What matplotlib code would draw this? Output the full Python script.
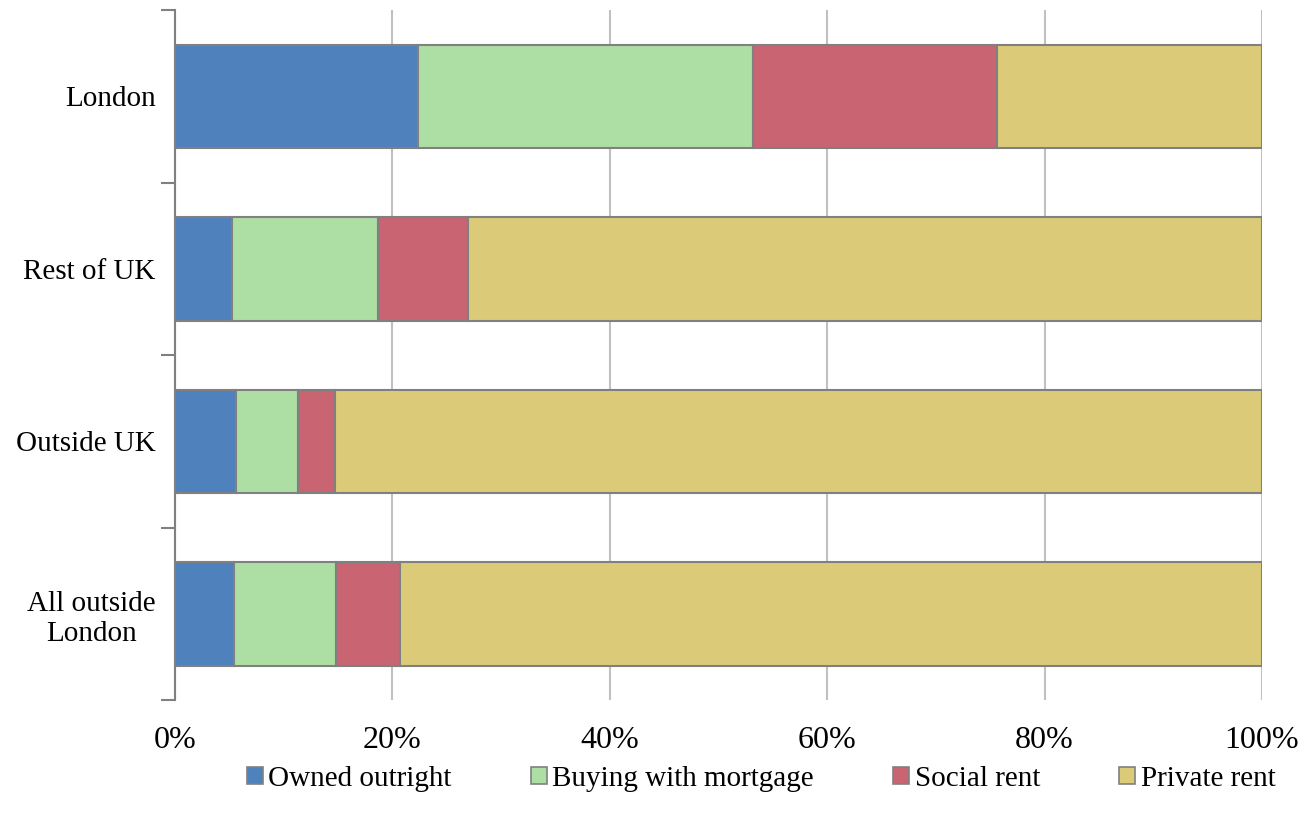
import matplotlib
matplotlib.use("Agg")
import matplotlib.pyplot as plt
import numpy as np

categories = ["London", "Rest of UK", "Outside UK", "All outside\nLondon"]
series_names = ["Owned outright", "Buying with mortgage", "Social rent", "Private rent"]
owned = [22.4, 5.2, 5.6, 5.4]
mortgage = [30.8, 13.5, 5.7, 9.4]
social = [22.4, 8.3, 3.4, 5.9]
private = [24.4, 73.0, 85.3, 79.3]
colors = ["#4f81bd", "#addfa5", "#c96473", "#dbcb78"]

plt.rcParams['font.family'] = ['Liberation Serif', 'DejaVu Serif']

fig = plt.figure(figsize=(13.07, 8.27), dpi=100)
ax = fig.add_axes([175/1307, 1-700/827, (1262-175)/1307, (700-10)/827])

y = np.arange(len(categories))
left = np.zeros(len(categories))
for name, vals, c in zip(series_names, [owned, mortgage, social, private], colors):
    ax.barh(y, vals, left=left, height=0.6, color=c, edgecolor="#808080", linewidth=1.5, label=name, zorder=3)
    left += np.array(vals)

ax.set_ylim(len(categories) - 0.5, -0.5)
ax.set_xlim(0, 100)
ax.set_xticks([0, 20, 40, 60, 80, 100])
ax.set_xticklabels(["0%", "20%", "40%", "60%", "80%", "100%"], fontsize=23)
ax.tick_params(axis='x', length=0, pad=19)
ax.xaxis.grid(True, color="#c0c0c0", linewidth=1.5, zorder=0)
ax.set_yticks(y)
ax.set_yticklabels(categories, fontsize=21)
ax.set_yticks(np.arange(-0.5, len(categories), 1.0), minor=True)
ax.tick_params(axis='y', which='major', length=0, pad=14)
ax.tick_params(axis='y', which='minor', length=10, width=1.5, color="#808080")
for s in ["top", "right", "bottom"]:
    ax.spines[s].set_visible(False)
ax.spines["left"].set_color("#808080")
ax.spines["left"].set_linewidth(1.5)
for lab in ax.get_yticklabels():
    lab.set_multialignment("center")

leg = fig.legend(loc="center", bbox_to_anchor=(761/1307, 1-779/827), ncol=4, frameon=False,
                 fontsize=21, handlelength=0.55, handleheight=0.55, handletextpad=0.2,
                 columnspacing=2.7, borderpad=0)
for h in leg.legend_handles:
    h.set_edgecolor("#808080")
    h.set_linewidth(1.2)

fig.savefig("out.png", dpi=100)
